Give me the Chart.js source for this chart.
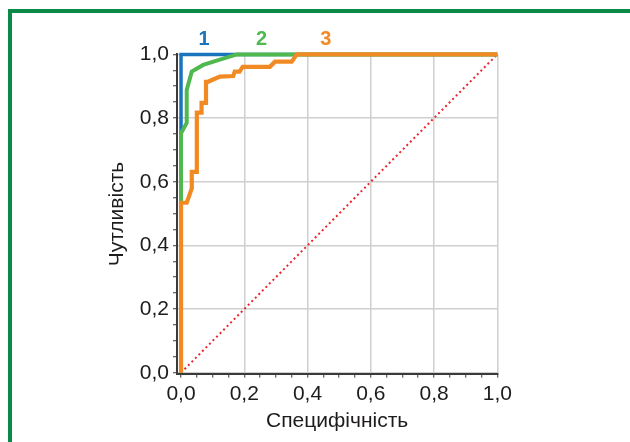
<!DOCTYPE html>
<html>
<head>
<meta charset="utf-8">
<script src="https://cdn.jsdelivr.net/npm/chart.js@4.4.1/dist/chart.umd.min.js"></script>
<style>
  html, body { margin: 0; padding: 0; background: #ffffff; overflow: hidden; }
  #wrap { position: relative; width: 630px; height: 442px; overflow: hidden; background: #fff; }
  #frame { position: absolute; left: 8px; top: 9px; width: 700px; height: 600px; border: 4px solid #0a8a46; box-sizing: border-box; }
  #c { position: absolute; left: 0; top: 0; }
</style>
</head>
<body>
<div id="wrap">
  <div id="frame"></div>
  <canvas id="c" width="630" height="442"></canvas>
</div>
<script>
// ---- data ----
const curveNames = ['1', '2', '3'];
const x1 = [0, 0, 1];
const y1 = [0, 1, 1];
const x2 = [0, 0, 0.018, 0.018, 0.034, 0.070, 0.176, 1];
const y2 = [0, 0.752, 0.785, 0.888, 0.946, 0.967, 1, 1];
const x3 = [0, 0, 0.018, 0.034, 0.034, 0.050, 0.050, 0.065, 0.065, 0.079, 0.079, 0.085, 0.123, 0.165, 0.170, 0.185, 0.195, 0.281, 0.297, 0.350, 0.366, 1];
const y3 = [0, 0.534, 0.534, 0.579, 0.631, 0.631, 0.817, 0.817, 0.848, 0.848, 0.914, 0.914, 0.930, 0.932, 0.946, 0.946, 0.961, 0.961, 0.977, 0.977, 1, 1];
const xRef = [0, 1];
const yRef = [0, 1];
const tickValues = [0, 0.2, 0.4, 0.6, 0.8, 1.0];
const xTitle = 'Специфічність';
const yTitle = 'Чутливість';

const pts = (xs, ys) => xs.map((x, i) => ({ x: x, y: ys[i] }));
const FONT = "'Liberation Sans', Arial, Helvetica, sans-serif";
const C1 = '#1a74bd', C2 = '#4fb84e', C3 = '#f28a24', CR = '#e8262c';

const minorTicks = [];
for (let i = 0; i <= 20; i++) minorTicks.push({ value: i / 20 });
const isMajor = v => tickValues.some(t => Math.abs(t - v) < 1e-6);
const fmt = v => isMajor(v) ? v.toFixed(1).replace('.', ',') : '';

const curveLabels = {
  id: 'curveLabels',
  afterDatasetsDraw(chart, args, opts) {
    const { ctx, scales } = chart;
    ctx.save();
    ctx.font = 'bold 20px ' + FONT;
    ctx.textAlign = 'center';
    ctx.textBaseline = 'middle';
    opts.items.forEach(it => {
      ctx.fillStyle = it.color;
      ctx.fillText(it.text, scales.x.getPixelForValue(it.x), scales.y.getPixelForValue(it.y));
    });
    ctx.restore();
  }
};

const lineDs = (label, data, color, width, dash) => ({
  label, data,
  borderColor: color, backgroundColor: color,
  borderWidth: width, borderDash: dash || [],
  pointRadius: 0, tension: 0, fill: false, clip: false,
  borderJoinStyle: 'miter', borderCapStyle: 'butt'
});

new Chart(document.getElementById('c'), {
  type: 'line',
  data: {
    datasets: [
      lineDs(curveNames[2], pts(x3, y3), C3, 4.2),
      lineDs(curveNames[1], pts(x2, y2), C2, 4),
      lineDs(curveNames[0], pts(x1, y1), C1, 3.5),
      lineDs('ref', pts(xRef, yRef), CR, 2, [2, 3])
    ]
  },
  options: {
    responsive: false,
    animation: false,
    devicePixelRatio: 1,
    layout: { padding: { top: 54.4, right: 132.7, bottom: 0, left: 0 } },
    plugins: {
      legend: { display: false },
      tooltip: { enabled: false },
      curveLabels: {
        items: [
          { text: curveNames[0], x: 0.073, y: 1.048, color: C1 },
          { text: curveNames[1], x: 0.255, y: 1.048, color: C2 },
          { text: curveNames[2], x: 0.458, y: 1.048, color: C3 }
        ]
      }
    },
    scales: {
      x: {
        type: 'linear', min: -0.0127, max: 1,
        afterBuildTicks: s => { s.ticks = minorTicks.map(t => ({ value: t.value })); },
        afterFit: s => { s.height = 68.3; },
        border: { display: true, color: '#3a3a3a', width: 2 },
        grid: {
          color: c => (c.tick && isMajor(c.tick.value) && c.tick.value > 0) ? '#cfcfcf' : 'rgba(0,0,0,0)',
          lineWidth: 1.5,
          drawTicks: true, tickLength: 4, tickColor: '#3a3a3a', tickWidth: 1
        },
        ticks: {
          autoSkip: false, maxRotation: 0, padding: 4,
          color: '#1e1b1c', font: { family: FONT, size: 21 },
          callback: v => fmt(v)
        },
        title: {
          display: true, text: xTitle, color: '#1e1b1c',
          font: { family: FONT, size: 21 }, padding: { top: 0, bottom: 8 }
        }
      },
      y: {
        type: 'linear', min: -0.003, max: 1,
        afterBuildTicks: s => { s.ticks = minorTicks.map(t => ({ value: t.value })); },
        afterFit: s => { s.width = 177; },
        border: { display: true, color: '#3a3a3a', width: 2 },
        grid: {
          color: c => (c.tick && isMajor(c.tick.value)) ? '#cfcfcf' : 'rgba(0,0,0,0)',
          lineWidth: 1.5,
          drawTicks: true, tickLength: 4, tickColor: '#3a3a3a', tickWidth: 1
        },
        ticks: {
          autoSkip: false, padding: 4,
          color: '#1e1b1c', font: { family: FONT, size: 21 },
          callback: v => fmt(v)
        },
        title: {
          display: true, text: yTitle, color: '#1e1b1c',
          font: { family: FONT, size: 21 }, padding: { top: 105, bottom: 0 }
        }
      }
    }
  },
  plugins: [curveLabels]
});
</script>
</body>
</html>
